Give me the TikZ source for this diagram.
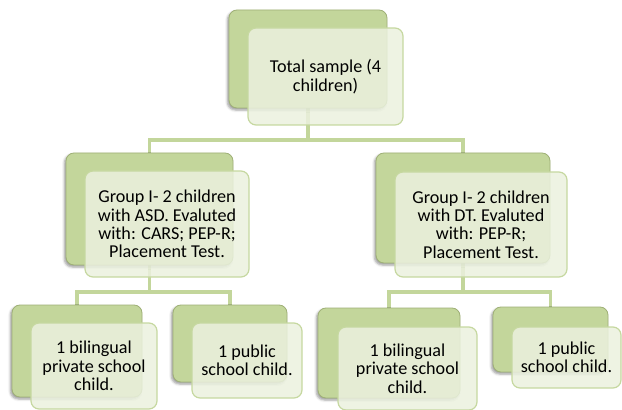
\documentclass[tikz,border=0pt]{standalone}
\usepackage{fontspec}
\setmainfont{Carlito}
\usepackage{tikz}
\usetikzlibrary{backgrounds,shadows.blur}
\definecolor{leaf}{HTML}{C3D69B}
\definecolor{leafedge}{HTML}{9FB077}
\definecolor{card}{HTML}{EBF1DE}
\definecolor{cardedge}{HTML}{C6D8A0}

\begin{document}
\begin{tikzpicture}[x=0.75pt,y=-0.75pt,
        back/.style 2 args={draw=leafedge,fill=leaf,line width=0.6pt,rounded corners=6pt,
            minimum width=#1*0.75pt,minimum height=#2*0.75pt,inner sep=0pt,
            blur shadow={shadow xshift=-1.2pt,shadow yshift=-1.5pt,shadow blur radius=1.8pt,shadow opacity=40}},
        card/.style 2 args={draw=cardedge,fill=card,fill opacity=0.85,text opacity=1,line width=0.9pt,
            rounded corners=6pt,minimum width=#1*0.75pt,minimum height=#2*0.75pt,inner sep=0pt,
            align=center,font=\fontsize{13.6}{13.8}\selectfont},
        link/.style={draw=leaf,line width=2.4pt}]
    \useasboundingbox (0,0) rectangle (622,410);

    \node[back={158}{98}] (root) at (308,59) {};
    \node[card={155}{97}] (rootcard) at (325.5,76.5) {Total sample (4\\children)};

    \node[back={167}{112}] (asd) at (149.5,209) {};
    \node[card={164}{106}] (asdcard) at (167,224) {Group I- 2 children\\with ASD. Evaluted\\with: CARS; PEP-R;\\Placement Test.};
    \node[back={174}{110}] (dt) at (463,208) {};
    \node[card={172}{105}] (dtcard) at (481,224.5) {Group I- 2 children\\with DT. Evaluted\\with: PEP-R;\\Placement Test.};

    \node[back={130}{92}] (asdpriv) at (77,351) {};
    \node[card={126}{86}] (asdprivcard) at (94,366) {1 bilingual\\private school\\child.};
    \node[back={114}{77}] (asdpub) at (230,343.5) {};
    \node[card={110}{75}] (asdpubcard) at (247,360.5) {1 public\\school child.};
    \node[back={142}{90}] (dtpriv) at (389,353) {};
    \node[card={139}{83}] (dtprivcard) at (407.5,368.5) {1 bilingual\\private school\\child.};
    \node[back={115}{65}] (dtpub) at (550.5,339.5) {};
    \node[card={109}{61}] (dtpubcard) at (566.5,357.5) {1 public\\school child.};

    % elbow connectors, behind the boxes
    \coordinate (bar0) at (0,140);
    \coordinate (bar1) at (0,292);
    \begin{scope}[on background layer]
        \draw[link] (root.south) -- (root.south |- bar0) -| (asd.north);
        \draw[link] (root.south |- bar0) -| (dt.north);
        \draw[link] (asd.south) -- (asd.south |- bar1) -| (asdpriv.north);
        \draw[link] (asd.south |- bar1) -| (asdpub.north);
        \draw[link] (dt.south) -- (dt.south |- bar1) -| (dtpriv.north);
        \draw[link] (dt.south |- bar1) -| (dtpub.north);
    \end{scope}
\end{tikzpicture}
\end{document}
